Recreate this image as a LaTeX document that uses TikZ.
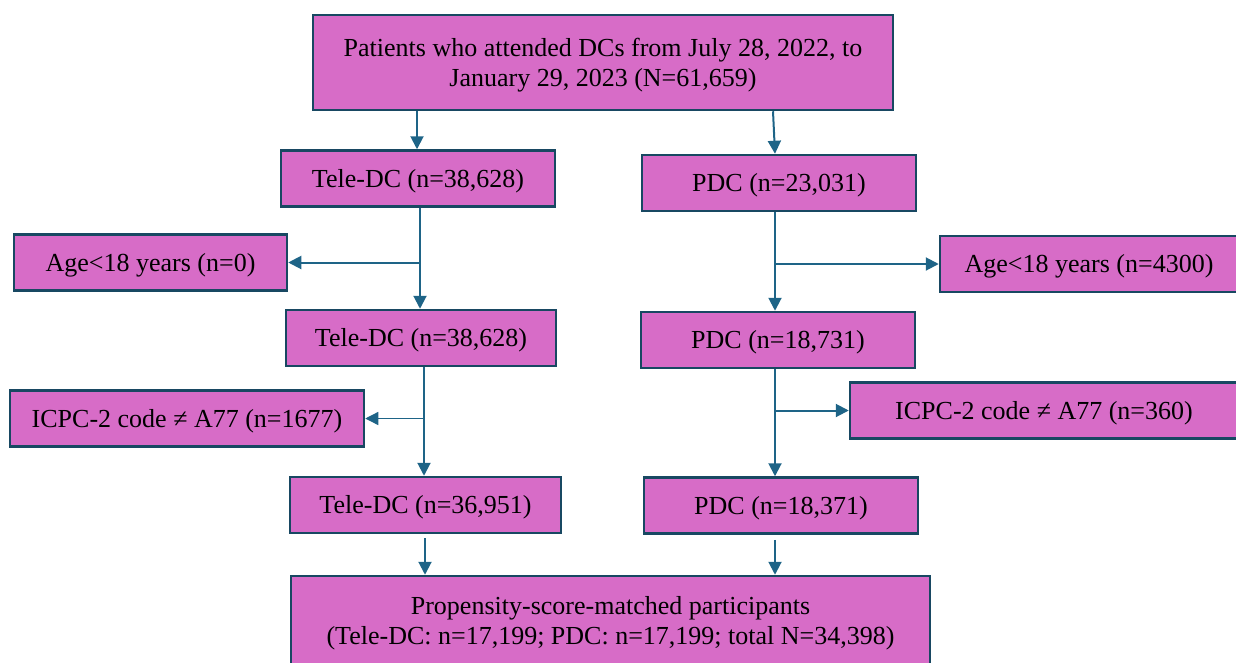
\documentclass[tikz,border=0pt]{standalone}
\usepackage{fontspec}
\setmainfont{Liberation Serif}
\usetikzlibrary{arrows.meta,positioning,calc}
\definecolor{boxfill}{RGB}{215,108,199}
\definecolor{boxline}{RGB}{24,72,98}
\definecolor{arline}{RGB}{30,100,135}

\begin{document}
\begin{tikzpicture}[x=1pt,y=-1pt,
  box/.style={draw=boxline,fill=boxfill,line width=2.5pt,align=center,inner sep=2pt,
              font=\fontsize{26}{30}\selectfont,text depth=1pt,minimum height=56pt},
  ar/.style={-{Triangle[length=13pt,width=13pt]},draw=arline,line width=2pt}]
\useasboundingbox (0,0) rectangle (1236,662);
\node[box,minimum width=580pt,minimum height=95pt] (top) at (603,62.5)
      {Patients who attended DCs from July 28, 2022, to\\ January 29, 2023 (N=61,659)};
% left arm
\node[box,minimum width=274pt] (t1) at (418,178.5) {Tele-DC (n=38,628)};
\node[box,minimum width=273pt] (ta) at (150.5,262.5) {Age<18 years (n=0)};
\node[box,minimum width=270pt] (t2) at (421,338) {Tele-DC (n=38,628)};
\node[box,minimum width=354pt] (ti) at (187,418.5) {ICPC-2 code ≠ A77 (n=1677)};
\node[box,minimum width=271pt] (t3) at (425.5,505) {Tele-DC (n=36,951)};
% right arm
\node[box,minimum width=274pt] (p1) at (779,183) {PDC (n=23,031)};
\node[box,minimum width=298pt] (pa) at (1089,264) {Age<18 years (n=4300)};
\node[box,minimum width=388pt] (pi) at (1044,410.5) {ICPC-2 code ≠ A77 (n=360)};
\node[box,minimum width=274pt] (p2) at (778,340) {PDC (n=18,731)};
\node[box,minimum width=274pt] (p3) at (781,505.5) {PDC (n=18,371)};
\node[box,minimum width=639pt,minimum height=90pt] (bot) at (610.5,621)
      {Propensity-score-matched participants\\ (Tele-DC: n=17,199; PDC: n=17,199; total N=34,398)};
% trunk lines
\coordinate (ta0) at (417,0);
\coordinate (pa0) at (773,0);
\coordinate (tb0) at (420,0);
\coordinate (pb0) at (775,0);
\coordinate (tc0) at (424,0);
\coordinate (pc0) at (775,0);
\draw[ar] (ta0 |- top.south) -- (ta0 |- t1.north);
\draw[ar] (pa0 |- top.south) -- ($(pa0 |- p1.north)+(2,0)$);
\draw[ar] (tb0 |- t1.south) -- (tb0 |- t2.north);
\draw[ar] (tb0 |- ta.east) -- (ta.east);
\draw[ar] (pb0 |- p1.south) -- (pb0 |- p2.north);
\draw[ar] (pb0 |- pa.west) -- (pa.west);
\draw[ar] (tc0 |- t2.south) -- (tc0 |- t3.north);
\draw[ar,line width=1.3pt] (tc0 |- ti.east) -- (ti.east);
\draw[ar] (pc0 |- p2.south) -- (pc0 |- p3.north);
\draw[ar] (pc0 |- pi.west) -- (pi.west);
\draw[ar,shorten <=4pt] (425,0 |- t3.south) -- (425,0 |- bot.north);
\draw[ar,shorten <=5pt] (775,0 |- p3.south) -- (775,0 |- bot.north);
\end{tikzpicture}
\end{document}
